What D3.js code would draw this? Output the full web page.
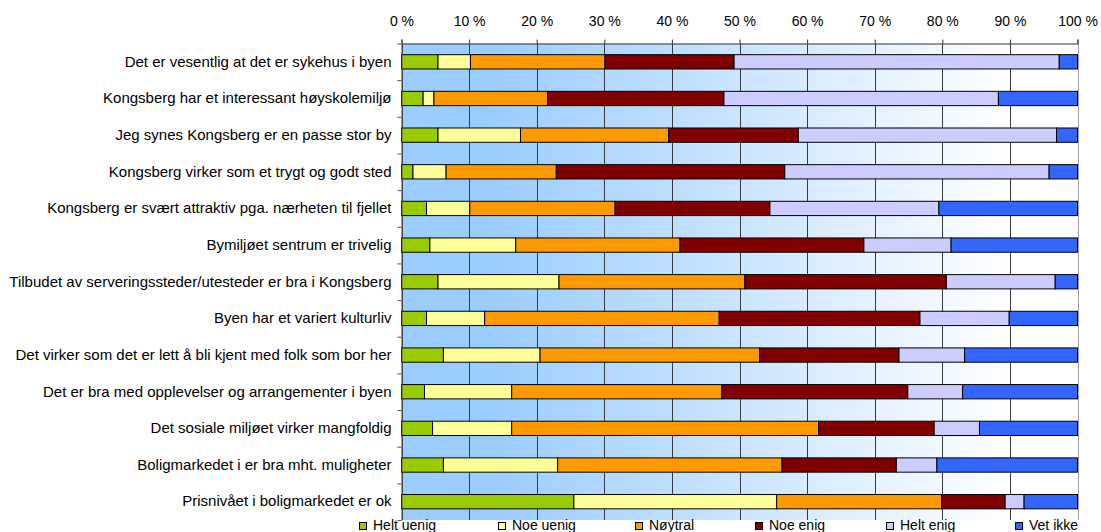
<!DOCTYPE html>
<html>
<head>
<meta charset="utf-8">
<script src="https://cdn.jsdelivr.net/npm/d3@7"></script>
<style>
  html, body { margin: 0; padding: 0; background: #fff; }
  svg { display: block; font-family: "Liberation Sans", Arial, sans-serif; }
</style>
</head>
<body>
<svg id="chart" width="1101" height="532"></svg>
<script>
const categories = [
  "Det er vesentlig at det er sykehus i byen",
  "Kongsberg har et interessant høyskolemiljø",
  "Jeg synes Kongsberg er en passe stor by",
  "Kongsberg virker som et trygt og godt sted",
  "Kongsberg er svært attraktiv pga. nærheten til fjellet",
  "Bymiljøet sentrum er trivelig",
  "Tilbudet av serveringssteder/utesteder er bra i Kongsberg",
  "Byen har et variert kulturliv",
  "Det virker som det er lett å bli kjent med folk som bor her",
  "Det er bra med opplevelser og arrangementer i byen",
  "Det sosiale miljøet virker mangfoldig",
  "Boligmarkedet i er bra mht. muligheter",
  "Prisnivået i boligmarkedet er ok"
];
const seriesNames = ["Helt uenig", "Noe uenig", "Nøytral", "Noe enig", "Helt enig", "Vet ikke"];
const heltUenig = [5.4, 3.2, 5.4, 1.7, 3.7, 4.2, 5.4, 3.7, 6.2, 3.4, 4.6, 6.2, 25.5];
const noeUenig  = [4.8, 1.6, 12.2, 4.9, 6.4, 12.7, 17.9, 8.6, 14.3, 12.9, 11.7, 16.9, 30.0];
const noytral   = [19.9, 16.8, 21.9, 16.3, 21.5, 24.3, 27.5, 34.7, 32.5, 31.1, 45.4, 33.2, 24.4];
const noeEnig   = [19.1, 26.1, 19.2, 33.8, 22.9, 27.2, 29.8, 29.7, 20.6, 27.5, 17.1, 16.9, 9.4];
const heltEnig  = [48.1, 40.6, 38.2, 39.1, 25.0, 12.9, 16.1, 13.2, 9.7, 8.1, 6.7, 6.0, 2.8];
const vetIkke   = [2.7, 11.7, 3.1, 4.2, 20.5, 18.7, 3.3, 10.1, 16.7, 17.0, 14.5, 20.8, 7.9];
const xTicks = [0, 10, 20, 30, 40, 50, 60, 70, 80, 90, 100];

const seriesValues = [heltUenig, noeUenig, noytral, noeEnig, heltEnig, vetIkke];
const colors = ["#99CC00", "#FFFF99", "#FF9900", "#800000", "#CCCCFF", "#3366FF"];
const legendX = [359, 498, 635, 755, 886, 1015];

const rows = categories.map((c, i) => {
  const r = { category: c };
  seriesNames.forEach((s, j) => r[s] = seriesValues[j][i]);
  return r;
});

const svg = d3.select("#chart");
const L = 401.5, R = 1077.5, T = 43.5, B = 520;

const x = d3.scaleLinear().domain([0, 100]).range([L, R]);
const y = d3.scaleBand().domain(categories).range([T, B]).paddingInner(0.61).paddingOuter(0.305);
const yIdx = d3.scaleLinear().domain([0, categories.length]).range([T, B]);

// background gradient
const defs = svg.append("defs");
const grad = defs.append("linearGradient").attr("id", "bg").attr("x1", "0%").attr("x2", "100%").attr("y1", "0%").attr("y2", "0%");
grad.append("stop").attr("offset", "0%").attr("stop-color", "#9DCDFF");
grad.append("stop").attr("offset", "12%").attr("stop-color", "#99CCFF");
grad.append("stop").attr("offset", "90%").attr("stop-color", "#FFFFFF");
grad.append("stop").attr("offset", "100%").attr("stop-color", "#FFFFFF");

svg.append("rect").attr("x", L).attr("y", T).attr("width", R - L).attr("height", B - T).attr("fill", "url(#bg)");

// gridlines
svg.append("g").selectAll("line").data(xTicks).join("line")
  .attr("x1", d => Math.round(x(d)) + 0.5).attr("x2", d => Math.round(x(d)) + 0.5)
  .attr("y1", T).attr("y2", B)
  .attr("stroke", d => d === 100 ? "#A0A0A0" : "#3a3a3a").attr("stroke-width", 1);

// bars
const stack = d3.stack().keys(seriesNames);
const stacked = stack(rows);
svg.append("g").selectAll("g").data(stacked).join("g")
  .attr("fill", (d, i) => colors[i])
  .selectAll("rect").data(d => d).join("rect")
  .attr("x", d => x(d[0]))
  .attr("y", d => y(d.data.category))
  .attr("width", d => x(d[1]) - x(d[0]))
  .attr("height", y.bandwidth())
  .attr("stroke", "#000").attr("stroke-width", 1);

// top axis
const xAxis = d3.axisTop(x).tickValues(xTicks).tickFormat(d => d + " %").tickSize(4).tickSizeOuter(4).tickPadding(14);
const gx = svg.append("g").attr("transform", `translate(0,${T})`).call(xAxis);
gx.selectAll("text").attr("font-size", 14).attr("fill", "#000").attr("font-family", "Liberation Sans, Arial, sans-serif");
gx.selectAll("line, path").attr("stroke", "#333");

// left axis boundary ticks
const yTickAxis = d3.axisLeft(yIdx).tickValues(d3.range(0, categories.length + 1)).tickFormat("").tickSize(4).tickSizeOuter(0);
const gy = svg.append("g").attr("transform", `translate(${L},0)`).call(yTickAxis);
gy.selectAll("line, path").attr("stroke", "#555");

// category labels
const yLabAxis = d3.axisLeft(y).tickSize(0).tickPadding(10);
const gl = svg.append("g").attr("transform", `translate(${L},0)`).call(yLabAxis);
gl.select(".domain").remove();
gl.selectAll("text").attr("font-size", 15).attr("fill", "#000").attr("font-family", "Liberation Sans, Arial, sans-serif");

// legend
const lg = svg.append("g").selectAll("g").data(seriesNames).join("g")
  .attr("transform", (d, i) => `translate(${legendX[i]},522)`);
lg.append("rect").attr("x", 0.5).attr("y", 0.5).attr("width", 7).attr("height", 7)
  .attr("fill", (d, i) => colors[i]).attr("stroke", "#000").attr("stroke-width", 1);
lg.append("text").attr("x", 14).attr("y", 7.5).attr("font-size", 14).attr("fill", "#000").text(d => d);
</script>
</body>
</html>
